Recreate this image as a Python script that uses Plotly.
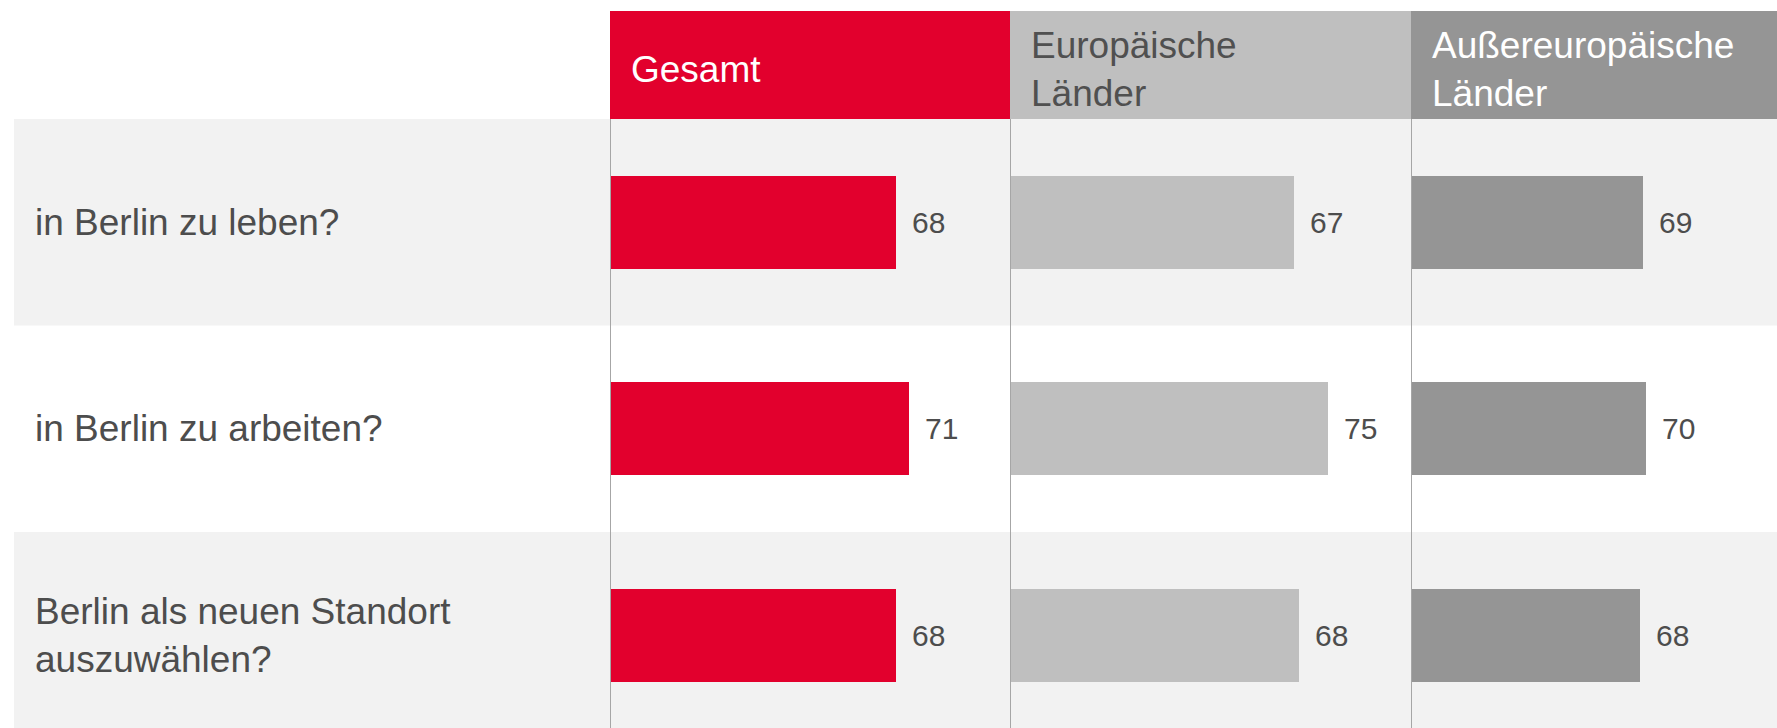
import plotly.graph_objects as go

# ---- data ----
categories = ["in Berlin zu leben?", "in Berlin zu arbeiten?", "Berlin als neuen Standort<br>auszuwählen?"]
groups = ["Gesamt", "Europäische<br>Länder", "Außereuropäische<br>Länder"]
gesamt = [68, 71, 68]
europa = [67, 75, 68]
aussereuropa = [69, 70, 68]

series = [gesamt, europa, aussereuropa]
bar_colors = ["#e2002d", "#bfbfbf", "#959595"]
header_text_colors = ["#ffffff", "#505050", "#ffffff"]
ranges = [[0, 95], [0, 94.5], [0, 108.8]]

W, H = 1777, 728
edges_px = [610, 1010, 1411, 1777]
domains = [[edges_px[i] / W, edges_px[i + 1] / W] for i in range(3)]
plot_top = (H - 119) / H
head_top = (H - 11) / H

FONT = "Liberation Sans, Arial, sans-serif"
TXT = "#4d4d4d"

fig = go.Figure()
axnames = ["x", "x2", "x3"]
for i, vals in enumerate(series):
    fig.add_trace(go.Bar(
        x=vals, y=categories, orientation="h",
        xaxis=axnames[i], yaxis="y",
        marker=dict(color=bar_colors[i], line=dict(width=0)),
        width=0.45, hoverinfo="x+y", showlegend=False,
    ))

shapes = []
# alternating row bands
for j in (0, 2):
    shapes.append(dict(type="rect", xref="paper", yref="y", layer="below",
                       x0=14 / W, x1=1, y0=j - 0.5, y1=j + 0.5,
                       fillcolor="#f2f2f2", line=dict(width=0)))
# header boxes and vertical axis lines
annotations = []
for i in range(3):
    shapes.append(dict(type="rect", xref=f"{axnames[i]} domain", yref="paper",
                       x0=0, x1=1, y0=plot_top, y1=head_top,
                       fillcolor=bar_colors[i], line=dict(width=0), layer="below"))
    shapes.append(dict(type="line", xref=axnames[i], yref="paper",
                       x0=0, x1=0, y0=0, y1=plot_top,
                       line=dict(color="#a6a6a6", width=2)))
    annotations.append(dict(text=groups[i], xref=f"{axnames[i]} domain", yref="paper",
                            x=0, y=(plot_top + head_top) / 2, xanchor="left", yanchor="middle",
                            xshift=19, yshift=-5, showarrow=False, align="left",
                            font=dict(family=FONT, size=37, color=header_text_colors[i])))
    for c, v in zip(categories, series[i]):
        annotations.append(dict(text=str(v), xref=axnames[i], yref="y", x=v, y=c,
                                xanchor="left", yanchor="middle", xshift=14,
                                showarrow=False,
                                font=dict(family=FONT, size=30, color=TXT)))

for c in categories:
    annotations.append(dict(text=c, xref="paper", yref="y", x=33 / W, y=c,
                            xanchor="left", yanchor="middle", showarrow=False, align="left",
                            font=dict(family=FONT, size=37, color=TXT)))

layout = dict(
    width=W, height=H,
    margin=dict(l=0, r=0, t=0, b=0),
    paper_bgcolor="#ffffff", plot_bgcolor="rgba(0,0,0,0)",
    shapes=shapes, annotations=annotations,
    bargap=0,
    yaxis=dict(domain=[0, plot_top], range=[2.45, -0.5], type="category",
               showticklabels=False, showgrid=False, zeroline=False, showline=False,
               anchor="x", fixedrange=True),
)
for i in range(3):
    key = "xaxis" if i == 0 else f"xaxis{i + 1}"
    layout[key] = dict(domain=domains[i], range=ranges[i], showticklabels=False,
                       showgrid=False, zeroline=False, showline=False, anchor="y",
                       fixedrange=True)
fig.update_layout(**layout)

fig.write_html("out.html", config={"displayModeBar": False},
               post_script="document.body.style.margin='0';document.body.style.overflow='hidden';")
